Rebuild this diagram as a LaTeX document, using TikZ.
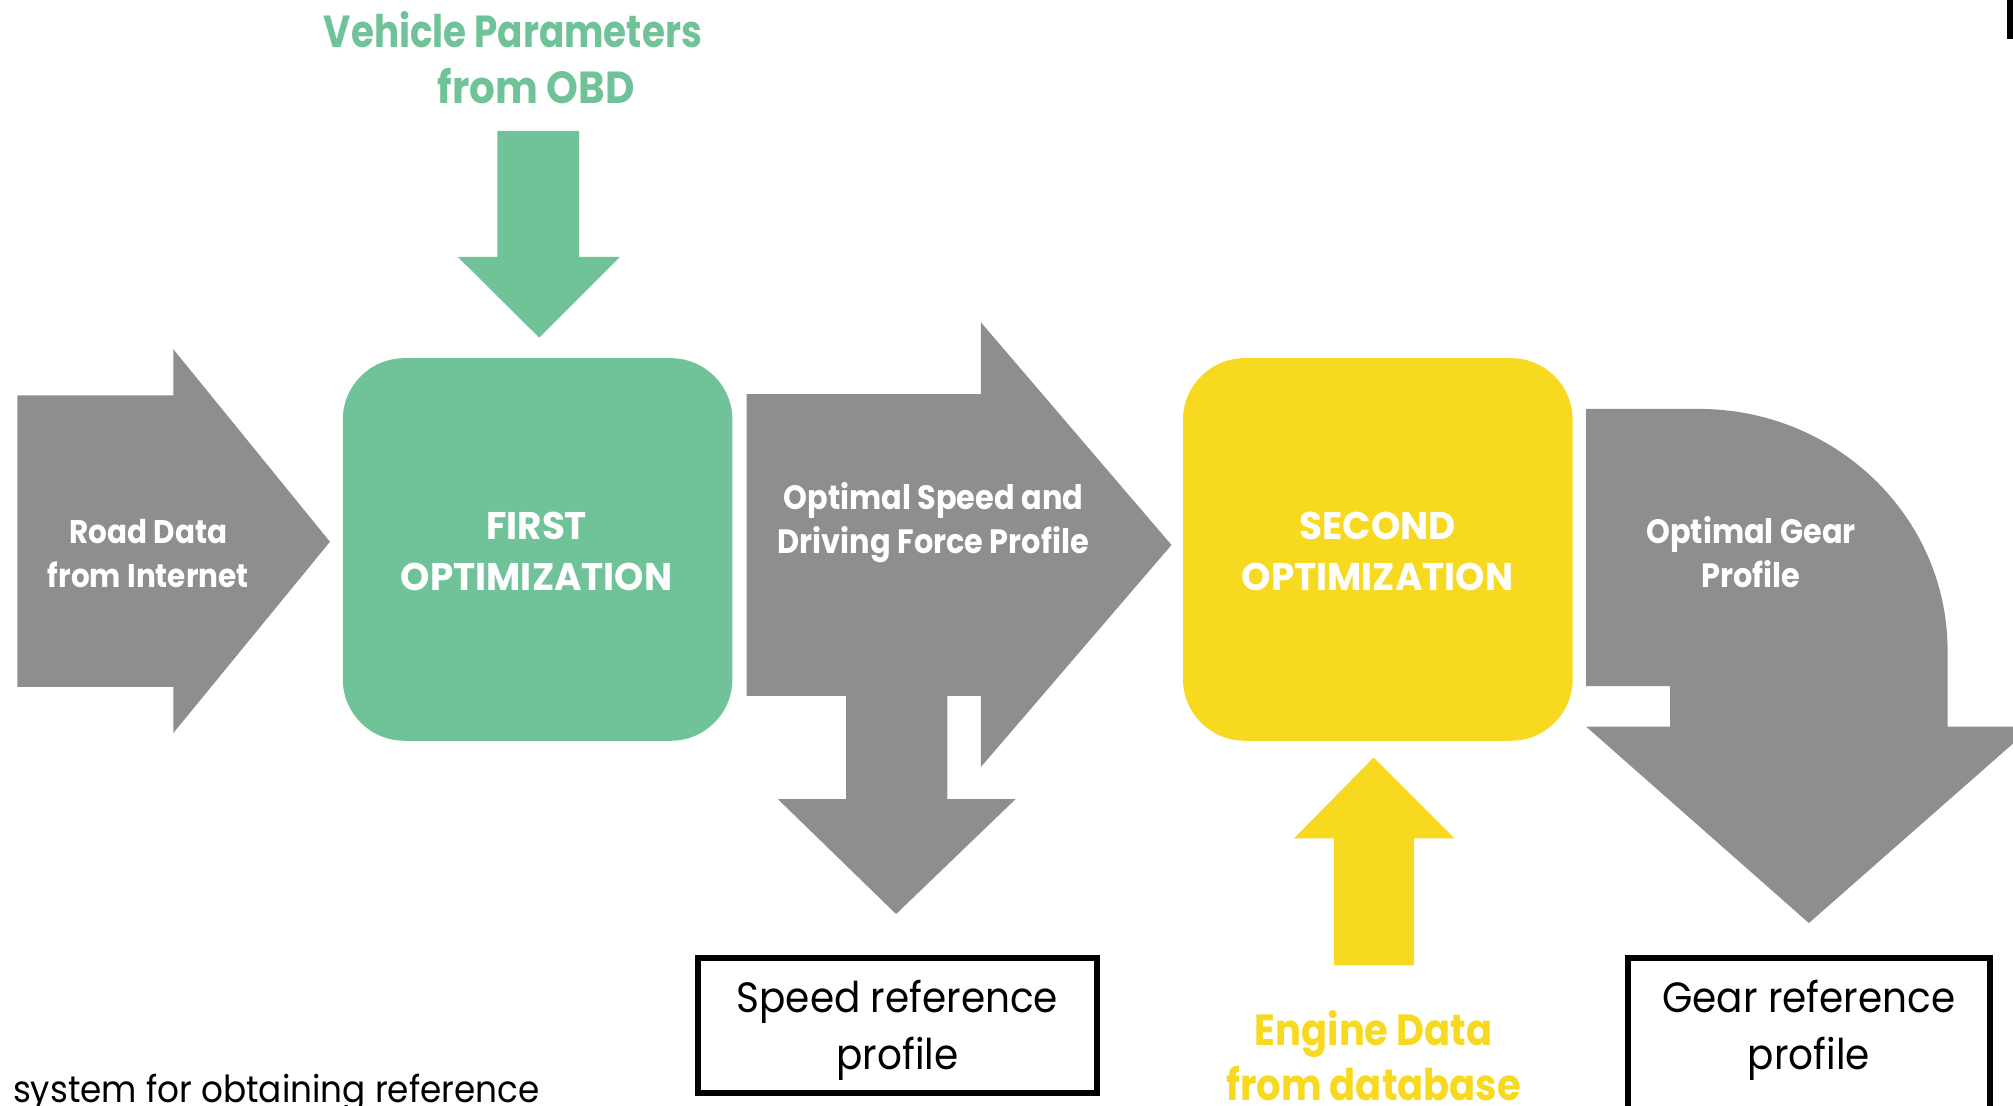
\documentclass[tikz,border=0pt]{standalone}
\usepackage{fontspec}
\newfontfamily\fsA[FakeStretch=0.83]{Poppins}
\newfontfamily\fsB[FakeStretch=0.88]{Poppins}
\newfontfamily\fsC[FakeStretch=0.90]{Poppins}
\newfontfamily\fsD[FakeStretch=0.97]{Poppins}
\newfontfamily\fsE[FakeStretch=0.92]{Poppins}
\definecolor{grn}{HTML}{70C399}
\definecolor{ylw}{HTML}{F7DA20}
\definecolor{gry}{HTML}{8E8E8E}
\tikzset{
  lbl/.style={anchor=base, inner sep=0pt, text=white},
  roadt/.style={lbl, font=\fsC\bfseries\fontsize{25.5}{25.5}\selectfont},
  midt/.style={lbl, font=\fsC\bfseries\fontsize{26.3}{26.3}\selectfont},
  wcap/.style={lbl, font=\fsD\bfseries\fontsize{30}{30}\selectfont},
  boxt/.style={anchor=base, inner sep=0pt, text=black, font=\fsE\fontsize{33}{33}\selectfont},
  outbox/.style={draw=black, line width=4.5pt},
}
\begin{document}
\begin{tikzpicture}[x=1pt,y=-1pt]
\path[use as bounding box] (0,0) rectangle (1568,861);
\fill[white] (0,0) rectangle (1568,861);
\begin{scope}
\clip (0,0) rectangle (1568,861);
% road data arrow
\fill[gry] (13.5,308) -- (135,308) -- (135,272) -- (257,422) -- (135,571) -- (135,535) -- (13.5,535) -- cycle;
% first optimization box
\fill[grn, rounded corners=48pt] (267,279) rectangle (570.5,577);
% vehicle parameter arrow
\fill[grn] (387.5,102) -- (451,102) -- (451,200) -- (483,200) -- (420,263) -- (356.5,200) -- (387.5,200) -- cycle;
% speed arrow with down branch
\fill[gry] (581.5,307) -- (764,307) -- (764,251) -- (912.5,424.5) -- (764,597.5) -- (764,542) -- (738,542) -- (738,622.5) -- (791,622.5) -- (698,712) -- (606,622.5) -- (659,622.5) -- (659,542) -- (581.5,542) -- cycle;
% second optimization box
\fill[ylw, rounded corners=48pt] (921.5,279) rectangle (1225,577);
% engine data arrow
\fill[ylw] (1039,752) -- (1101.5,752) -- (1101.5,653) -- (1133,653) -- (1070,590) -- (1008,653) -- (1039,653) -- cycle;
% gear arrow
\fill[gry] (1235.5,318.5) -- (1323,318.5) .. controls (1430.1,318.5) and (1517,402.7) .. (1517,506.5) -- (1517,566) -- (1583,566) -- (1409,719) -- (1235.5,566) -- (1301,566) -- (1301,534.5) -- (1235.5,534.5) -- cycle;
% output boxes
\draw[outbox] (543.5,746.5) rectangle (854.5,851.5);
\draw[outbox] (1268,746.5) rectangle (1550,900);
\fill[black] (1563,0) rectangle (1568,30);
% texts
\node[anchor=base, inner sep=0pt, text=grn, font=\fsA\bfseries\fontsize{35}{35}\selectfont] (vp1) at (399.5,37) {Vehicle Parameters};
\node[anchor=base, inner sep=0pt, text=grn, font=\fsC\bfseries\fontsize{35}{35}\selectfont] (vp2) at (417.5,81) {from OBD};
\node[roadt] (rd1) at (115.5,423) {Road Data};
\node[roadt] (rd2) at (115.5,458) {from Internet};
\node[wcap] (fo1) at (418,420) {FIRST};
\node[wcap] (fo2) at (418,460) {OPTIMIZATION};
\node[midt] (os1) at (727,397) {Optimal Speed and};
\node[midt] (os2) at (727,431) {Driving Force Profile};
\node[wcap] (so1) at (1073,420) {SECOND};
\node[wcap] (so2) at (1073,460) {OPTIMIZATION};
\node[midt] (og1) at (1364,423) {Optimal Gear};
\node[midt] (og2) at (1364,458) {Profile};
\node[anchor=base, inner sep=0pt, text=ylw, font=\fsB\bfseries\fontsize{34}{34}\selectfont] (ed1) at (1070,814) {Engine Data};
\node[anchor=base, inner sep=0pt, text=ylw, font=\fsB\bfseries\fontsize{34}{34}\selectfont] (ed2) at (1070,857) {from database};
\node[boxt] (sr1) at (699,789) {Speed reference};
\node[boxt] (sr2) at (699,833) {profile};
\node[boxt] (gr1) at (1409,789) {Gear reference};
\node[boxt] (gr2) at (1409,833) {profile};
\node[anchor=base west, inner sep=0pt, text=black, font=\fsE\fontsize{29}{29}\selectfont] (cap) at (10,859) {system for obtaining reference};
\end{scope}
\end{tikzpicture}
\end{document}
